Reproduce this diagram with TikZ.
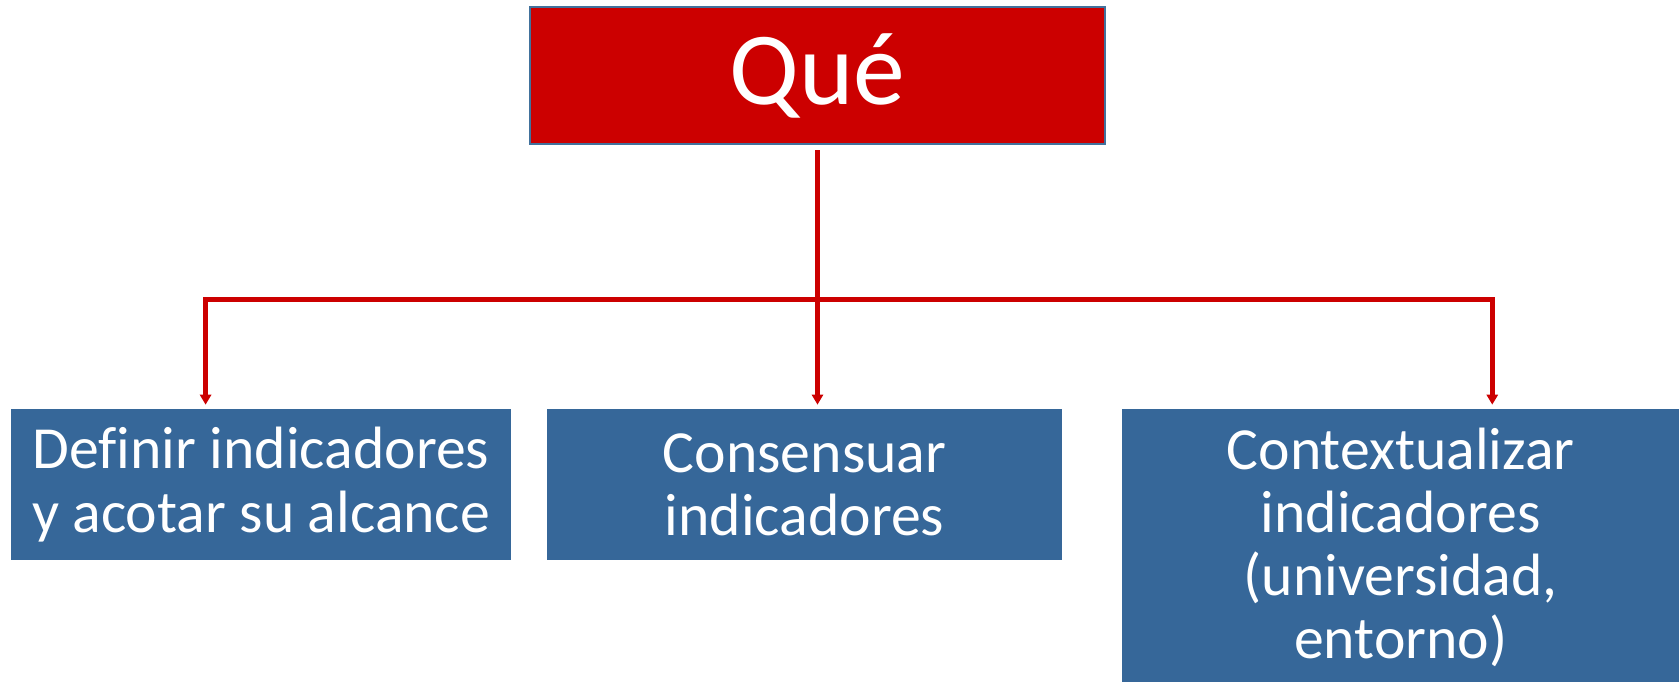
\documentclass[tikz,border=0pt]{standalone}
\usepackage{fontspec}
\setmainfont{Carlito}[Ligatures=NoCommon]
\usetikzlibrary{positioning,arrows.meta}
\definecolor{quered}{HTML}{CC0000}
\definecolor{boxblue}{HTML}{366799}
\definecolor{edgeblue}{HTML}{41719C}

\begin{document}
\begin{tikzpicture}[x=0.02cm, y=-0.02cm,
  every node/.style={text=white, align=center, font=\fontsize{34}{36}\selectfont},
  taskbox/.style={rectangle, fill=boxblue, minimum height=3.02cm},
  link/.style={draw=quered, line width=0.1cm, line join=miter,
    shorten <=0.08cm, shorten >=0.08cm},
  tip/.style={-{Triangle[width=6.3pt,length=5.7pt]}}]
  \useasboundingbox (0,0) rectangle (1679,681);

  \node[draw=edgeblue, line width=0.04cm, rectangle, minimum width=11.5cm, minimum height=2.76cm, fill=quered, font=\fontsize{59}{60}\selectfont] (que) at (817.5,75.5) {Qué};

  \node[taskbox, minimum width=10.02cm] (defin) at (261,484.5) {Definir indicadores\\y acotar su alcance};
  \node[taskbox, minimum width=10.3cm, right=0.7cm of defin] (cons) {Consensuar\\indicadores};
  \node[taskbox, minimum width=11.16cm, minimum height=5.54cm, right=1.18cm of cons.north east, anchor=north west] (ctx) {Contextualizar\\indicadores\\(universidad,\\entorno)};

  \coordinate (bus) at (que.south |- 0,299);
  \draw[link, tip, shorten <=0.1cm] (que.south) -- (que.south |- cons.north);
  \draw[link, {Triangle[width=6.3pt,length=5.7pt]}-{Triangle[width=6.3pt,length=5.7pt]}] ([xshift=-1.108cm]defin.north) |- (bus) -| ([xshift=1.832cm]ctx.north);
\end{tikzpicture}
\end{document}
